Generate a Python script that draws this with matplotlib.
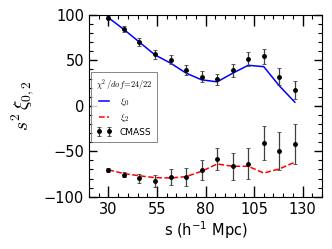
import matplotlib
matplotlib.use('Agg')
import matplotlib.pyplot as plt
from matplotlib.font_manager import FontProperties

s = [30, 38, 46, 54, 62, 70, 78, 86, 94, 102, 110, 118, 126]

xi0 = [97, 84.4, 70.3, 56.9, 50.7, 39, 31.9, 29, 39, 51.8, 54.7, 31.9, 17.4]
xi0_err = [2, 3, 4, 5, 5, 5.4, 6.2, 6.5, 7.2, 7.8, 8.2, 9.2, 9.8]
xi0_model = [97, 84, 70, 56, 47, 36, 28.6, 26.4, 35.9, 44.6, 43.1, 22, 4]

xi2 = [-70.5, -75.7, -79.7, -83, -78.6, -77.9, -70.2, -58.4, -66.5, -63.9, -41, -49.5, -41.8]
xi2_err = [2, 3, 5, 6.4, 8.8, 10, 11, 12.5, 14.7, 17, 18.4, 20.6, 22]
xi2_model = [-70.5, -74.5, -77, -79, -79.4, -77.9, -72, -64, -66.5, -66.5, -74, -69.4, -62]

fig = plt.figure(figsize=(3.32, 2.49), dpi=100)
ax = fig.add_axes([0.268, 0.21, 0.702, 0.73])

ax.plot(s, xi0_model, color='blue', lw=1.1, label=r'$\xi_0$')
ax.plot(s, xi2_model, color='red', lw=1.1, ls='--', label=r'$\xi_2$')
ax.errorbar(s, xi0, yerr=xi0_err, fmt='o', color='k', ms=2.5, ecolor='0.25',
            elinewidth=0.9, capsize=1.5, capthick=0.6, label='CMASS')
ax.errorbar(s, xi2, yerr=xi2_err, fmt='o', color='k', ms=2.5, ecolor='0.25',
            elinewidth=0.9, capsize=1.5, capthick=0.6)

ax.set_xlim(20, 140)
ax.set_ylim(-100, 100)
ax.set_xticks([30, 55, 80, 105, 130])
ax.set_yticks([-100, -50, 0, 50, 100])
ax.minorticks_on()
ax.tick_params(which='both', direction='in', top=True, right=True, labelsize=10.5)
ax.tick_params(which='major', length=6, width=1)
ax.tick_params(which='minor', length=3, width=0.8)
ax.tick_params(axis='x', which='major', length=8)

ax.set_xlabel(r's (h$^{-1}$ Mpc)', fontsize=10.5, labelpad=2)
ax.set_ylabel(r'$s^2\,\xi_{0,2}$', fontsize=14, labelpad=6, math_fontfamily='cm')

leg = ax.legend(loc='upper left', bbox_to_anchor=(0.0, 0.695),
                prop=FontProperties(size=7, math_fontfamily='cm'),
                title=r'$\chi^2\,/dof\!=\!24/22$',
                title_fontproperties=FontProperties(size=6, math_fontfamily='cm'),
                fancybox=False, edgecolor='0.4', handlelength=1.6, numpoints=2,
                borderpad=0.5, labelspacing=0.4, borderaxespad=0.2)
leg.get_frame().set_linewidth(0.7)
for t in leg.get_texts():
    if t.get_text() == 'CMASS':
        t.set_fontsize(6.5)

fig.savefig('out.png', dpi=100)
